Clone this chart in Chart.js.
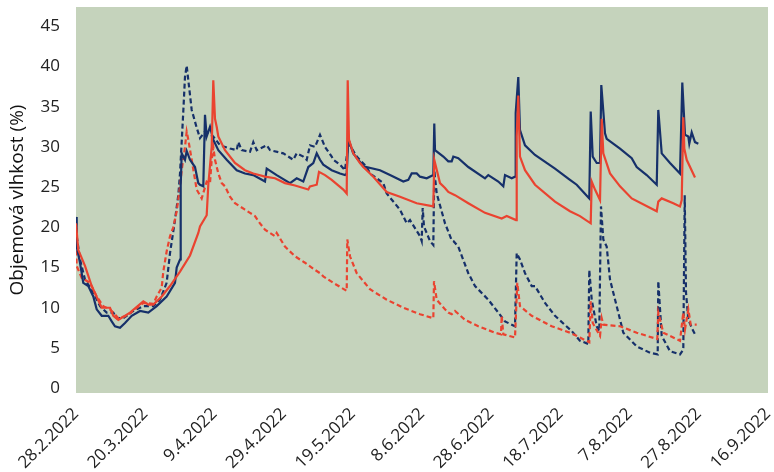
<!DOCTYPE html>
<html>
<head>
<meta charset="utf-8">
<script src="https://cdn.jsdelivr.net/npm/chart.js@4.4.0/dist/chart.umd.min.js"></script>
<style>
  html, body { margin: 0; padding: 0; background: #fff; }
  #wrap { width: 774px; height: 472px; }
</style>
</head>
<body>
<div id="wrap"><canvas id="chart"></canvas></div>
<script>
// x = days since 28.2.2022
const xTickLabels = ['28.2.2022', '20.3.2022', '9.4.2022', '29.4.2022', '19.5.2022', '8.6.2022',
  '28.6.2022', '18.7.2022', '7.8.2022', '27.8.2022', '16.9.2022'];
const yTicks = [0, 5, 10, 15, 20, 25, 30, 35, 40, 45];

// navy solid
const navySolidDays = [0, 0.2, 1.16, 2.1, 3.55, 5.0, 5.98, 7.43, 9.34, 10.32, 11.27, 12.72, 14.16, 16.1, 18.5, 20.9,
  23.32, 26.2, 28.61, 29.1, 30.06, 30.26, 30.55, 31.5, 31.99, 32.95, 34.39, 35.35, 35.84, 36.79, 37.28, 37.77,
  38.73, 39.68, 41.13, 43.55, 46.45, 48.84, 51.24, 54.62, 55.12, 58.0, 61.85, 63.79, 65.69, 67.14, 68.58, 69.57,
  70.52, 71.47, 73.9, 76.3, 77.75, 78.24, 78.7, 80.14, 83.03, 87.86, 90.75, 94.6, 96.04, 97.02, 98.47, 99.42,
  101.36, 103.27, 103.55, 103.76, 106.16, 107.6, 108.58, 109.05, 110.49, 113.38, 118.21, 119.16, 122.05, 123.5,
  123.99, 125.92, 126.88, 127.08, 127.83, 128.32, 129.77, 132.66, 138.44, 142.77, 144.71, 146.62, 148.35, 148.76,
  149.34, 150.49, 151.45, 151.82, 152.89, 153.38, 157.23, 160.61, 162.05, 164.94, 167.84, 168.29, 169.28, 171.68,
  174.57, 175.23, 176.01, 176.97, 177.25, 177.95, 178.9, 179.86];
const navySolidVals = [21.3, 17.6, 15.6, 13.1, 12.7, 11.4, 9.8, 9.0, 9.0, 8.3, 7.7, 7.5, 8.1, 9.0, 9.6, 9.4,
  10.2, 11.4, 13.1, 15.0, 16.0, 25.1, 29.2, 28.4, 29.5, 28.4, 27.5, 25.5, 25.3, 25.1, 34.0, 31.3,
  32.5, 30.9, 29.6, 28.4, 27.1, 26.7, 26.5, 25.7, 27.3, 26.5, 25.5, 26.1, 25.7, 27.5, 28.0, 29.2,
  28.4, 27.8, 27.1, 26.7, 26.5, 26.7, 31.0, 29.2, 27.6, 27.1, 26.5, 25.7, 25.9, 26.7, 26.7, 26.3,
  26.1, 26.5, 32.9, 29.6, 28.8, 28.2, 28.2, 28.8, 28.6, 27.5, 26.1, 26.5, 25.7, 25.1,
  26.5, 26.1, 26.3, 34.2, 38.7, 32.1, 30.2, 29.0, 27.3, 25.9, 25.3, 24.4, 23.6, 34.4,
  28.8, 28.0, 28.0, 37.7, 31.7, 31.0, 29.8, 28.6, 27.5, 26.5, 25.3, 34.6, 29.2, 28.0,
  26.7, 38.0, 31.5, 31.3, 30.4, 31.8, 30.6, 30.4];

// red solid
const redSolidDays = [0, 0.66, 2.6, 4.54, 7.43, 9.83, 10.78, 12.23, 15.61, 19.45, 20.9, 22.34, 24.77, 27.17, 30.06,
  32.95, 35.35, 35.84, 37.77, 38.24, 39.22, 39.68, 40.17, 40.66, 41.13, 43.06, 45.95, 48.84, 51.24, 54.62, 57.51,
  60.4, 63.29, 67.14, 67.63, 69.57, 70.23, 71.97, 73.9, 77.25, 78.24, 78.53, 78.9, 80.14, 82.08, 83.03, 85.93,
  89.8, 93.64, 98.47, 103.27, 103.55, 105.2, 106.65, 107.6, 109.54, 113.38, 118.21, 123.03, 124.48, 127.17,
  127.37, 127.83, 128.32, 129.77, 132.66, 138.44, 142.77, 145.66, 148.76, 149.05, 150.0, 151.45, 151.94, 152.4,
  154.34, 157.23, 160.61, 167.84, 168.29, 169.28, 172.63, 174.57, 175.06, 175.52, 175.81, 176.5, 178.9];
const redSolidVals = [20.5, 17.2, 15.2, 12.7, 10.0, 10.0, 9.0, 8.5, 9.4, 10.8, 10.4, 10.4, 11.4, 12.7, 14.5,
  16.5, 19.3, 20.1, 21.5, 25.3, 30.0, 38.3, 33.5, 32.5, 31.3, 29.6, 28.0, 27.1, 26.7, 26.3, 26.1,
  25.5, 25.2, 24.7, 25.1, 25.3, 26.9, 26.5, 25.9, 24.7, 24.2, 38.3, 30.9, 29.2, 28.0, 27.5, 26.3,
  24.4, 23.8, 23.0, 22.6, 28.4, 25.5, 24.9, 24.4, 24.0, 23.0, 21.8, 21.1, 21.4, 20.9,
  31.3, 36.4, 28.8, 27.1, 25.3, 23.2, 22.0, 21.4, 20.5, 25.7, 24.7, 23.4, 33.5, 29.2,
  26.7, 25.1, 23.6, 22.0, 23.2, 23.6, 23.0, 22.6, 23.4, 33.7, 29.8, 28.4, 26.2];

// navy dashed
const navyDashDays = [0, 0.2, 1.16, 2.6, 5.0, 6.94, 8.87, 10.78, 11.76, 13.67, 16.56, 19.45, 22.34, 24.28, 26.2,
  27.17, 28.61, 29.57, 30.06, 31.01, 31.5, 31.99, 32.46, 33.44, 34.88, 35.84, 37.28, 39.68, 41.62, 44.51, 46.45,
  46.91, 47.89, 50.29, 51.24, 52.23, 55.12, 56.07, 59.91, 62.8, 63.79, 65.69, 66.68, 67.63, 69.08, 70.52, 71.97,
  73.9, 74.36, 76.3, 77.75, 78.7, 79.19, 81.13, 84.02, 84.97, 88.82, 89.8, 93.64, 95.58, 96.53, 99.42, 99.91,
  100.2, 100.58, 102.31, 103.27, 103.55, 104.25, 106.65, 108.58, 109.05, 110.49, 113.38, 115.32, 119.16, 122.05,
  123.99, 126.88, 127.37, 128.32, 129.77, 131.7, 132.66, 135.55, 138.44, 143.27, 145.66, 148.06, 148.35, 149.05,
  150.49, 151.24, 151.73, 152.4, 153.38, 154.34, 156.27, 158.18, 162.05, 165.9, 168.12, 168.29, 169.28, 171.68,
  174.57, 175.52, 175.93, 176.3, 176.97, 178.41, 179.19];
const navyDashVals = [20.9, 18.9, 16.0, 13.5, 11.9, 10.2, 9.4, 9.4, 8.7, 8.7, 9.6, 10.2, 10.2, 11.0, 13.1,
  16.8, 20.9, 24.0, 26.7, 34.4, 38.7, 40.1, 38.3, 34.6, 32.4, 31.1, 31.9, 31.3, 30.2, 29.8, 29.6,
  30.6, 29.6, 29.4, 30.6, 29.6, 30.2, 29.6, 29.2, 28.4, 29.2, 28.8, 28.4, 30.2, 30.0, 31.5, 30.0,
  28.8, 28.4, 27.8, 27.1, 30.4, 30.2, 28.8, 27.5, 26.7, 25.5, 24.2, 22.2, 20.5, 20.9, 18.9, 18.3,
  22.4, 20.1, 18.3, 17.8, 27.1, 24.2, 20.5, 18.4, 18.3, 17.6, 14.3, 12.7, 11.0, 9.4,
  8.3, 7.7, 16.8, 16.0, 14.3, 12.7, 12.7, 10.6, 9.0, 7.1, 5.9, 5.5, 14.7, 11.0,
  7.7, 7.1, 22.6, 18.5, 17.6, 13.5, 10.2, 6.9, 5.2, 4.4, 4.2, 13.3, 6.5, 4.6,
  4.2, 4.8, 24.0, 11.9, 8.5, 7.1, 6.5];

// red dashed
const redDashDays = [0, 0.1, 0.2, 1.65, 4.05, 5.98, 7.89, 9.83, 10.78, 12.23, 14.65, 19.45, 22.34, 23.32, 24.77,
  25.23, 26.2, 27.17, 28.12, 29.1, 30.06, 30.55, 31.5, 31.99, 32.46, 33.44, 34.88, 36.33, 37.77, 38.73, 39.22,
  39.68, 40.17, 41.13, 42.11, 43.06, 44.51, 45.95, 48.84, 50.29, 51.73, 53.18, 54.62, 57.51, 58.0, 60.4, 63.29,
  66.18, 69.08, 70.52, 71.47, 74.36, 78.24, 78.41, 79.19, 81.13, 84.97, 89.8, 94.6, 99.42, 103.27, 103.47, 104.25,
  106.65, 107.6, 108.58, 109.54, 112.43, 116.27, 121.1, 122.83, 123.03, 123.5, 126.88, 127.54, 128.32, 131.7,
  137.49, 142.77, 145.66, 148.35, 148.76, 149.34, 151.45, 151.94, 152.4, 157.23, 162.05, 168.0, 168.29, 169.74,
  174.57, 175.52, 176.01, 176.97, 177.66, 179.39];
const redDashVals = [20.1, 16.8, 15.2, 13.7, 13.1, 11.4, 10.2, 9.8, 9.4, 8.7, 9.0, 10.6, 10.5, 11.4, 12.5,
  14.5, 17.0, 18.9, 20.0, 22.0, 25.1, 27.1, 30.0, 31.9, 30.9, 28.4, 24.7, 23.6, 25.7, 25.5, 28.4,
  30.0, 28.4, 26.7, 25.5, 25.1, 23.8, 23.0, 22.2, 21.8, 21.4, 20.5, 19.7, 18.9, 19.3, 17.6, 16.4,
  15.6, 14.7, 14.3, 13.9, 13.1, 12.1, 18.5, 16.4, 14.3, 12.3, 11.0, 10.0, 9.2, 8.7, 13.3, 11.0,
  9.8, 9.4, 9.2, 9.6, 8.5, 7.7, 6.9, 6.7, 9.0, 6.7, 6.3, 13.1, 10.2, 9.0,
  7.7, 6.9, 6.3, 5.7, 10.8, 8.1, 6.5, 8.7, 7.9, 7.7, 6.9, 6.1, 9.4, 6.9,
  5.9, 9.4, 7.3, 9.8, 7.9, 7.9];

const NAVY = '#16306a';
const RED = '#ea4330';

const toPoints = (days, vals) => days.map((d, i) => ({ x: d, y: vals[i] }));

const plotBg = {
  id: 'plotBg',
  beforeDraw(chart) {
    const { ctx, chartArea } = chart;
    ctx.save();
    ctx.fillStyle = '#c5d3bc';
    ctx.fillRect(chartArea.left, chartArea.top, chartArea.width, chartArea.height);
    ctx.restore();
  }
};

const line = (data, color, dashed, order) => ({
  data,
  borderColor: color,
  backgroundColor: color,
  borderWidth: 2.2,
  borderDash: dashed ? [5, 3] : [],
  pointRadius: 0,
  tension: 0,
  fill: false,
  order
});

new Chart(document.getElementById('chart'), {
  type: 'line',
  data: {
    datasets: [
      line(toPoints(redSolidDays, redSolidVals), RED, false, 0),
      line(toPoints(navySolidDays, navySolidVals), NAVY, false, 1),
      line(toPoints(redDashDays, redDashVals), RED, true, 2),
      line(toPoints(navyDashDays, navyDashVals), NAVY, true, 3)
    ]
  },
  options: {
    responsive: true,
    maintainAspectRatio: false,
    animation: false,
    layout: { padding: { top: 7, right: 6, left: 0, bottom: 0 } },
    plugins: {
      legend: { display: false },
      tooltip: { enabled: false }
    },
    scales: {
      x: {
        type: 'linear',
        min: 0,
        max: 200,
        grid: { display: false, drawTicks: false },
        border: { display: false },
        afterFit(scale) {
          scale.height = 79;
          scale.paddingRight = 0;
          scale.paddingLeft = 0;
        },
        ticks: {
          stepSize: 20,
          minRotation: 45,
          maxRotation: 45,
          padding: 11,
          color: '#222',
          font: { family: 'Open Sans', size: 17 },
          callback: (v) => xTickLabels[Math.round(v / 20)]
        }
      },
      y: {
        min: -0.6,
        max: 47.4,
        grid: { display: false, drawTicks: false },
        border: { display: false },
        afterBuildTicks(scale) {
          scale.ticks = yTicks.map(v => ({ value: v }));
        },
        afterFit(scale) {
          scale.width = 76;
          scale.paddingTop = 0;
          scale.paddingBottom = 0;
        },
        ticks: {
          padding: 16,
          color: '#222',
          font: { family: 'Open Sans', size: 17 }
        },
        title: {
          display: true,
          text: 'Objemová vlhkost (%)',
          color: '#111',
          font: { family: 'Open Sans', size: 19 },
          padding: { top: 6, bottom: 0 }
        }
      }
    }
  },
  plugins: [plotBg]
});
</script>
</body>
</html>
